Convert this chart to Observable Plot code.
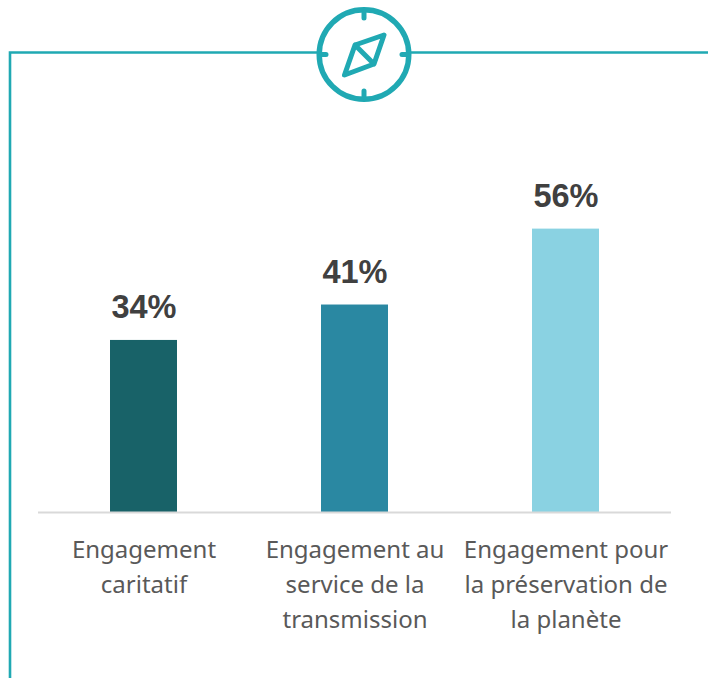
<!DOCTYPE html>
<html lang="fr">
<head>
<meta charset="utf-8">
<script src="https://cdn.jsdelivr.net/npm/d3@7"></script>
<script src="https://cdn.jsdelivr.net/npm/@observablehq/plot@0.6"></script>
<style>
html,body{margin:0;padding:0;background:#fff;overflow:hidden}
#wrap{position:relative;width:708px;height:678px}
#wrap>svg{position:absolute;left:0;top:0}
</style>
</head>
<body>
<div id="wrap"></div>
<script>
const categories = ["Engagement caritatif", "Engagement au service de la transmission", "Engagement pour la préservation de la planète"];
const tickLabels = ["Engagement\ncaritatif", "Engagement au\nservice de la\ntransmission", "Engagement pour\nla préservation de\nla planète"];
const values = [34, 41, 56];
const colors = ["#186268", "#2a88a2", "#8ad2e2"];
const rows = categories.map((category, i) => ({category, value: values[i], color: colors[i]}));

const chart = Plot.plot({
  width: 708, height: 678,
  marginLeft: 38, marginRight: 37, marginTop: 52, marginBottom: 166,
  style: {background: "transparent"},
  x: {domain: categories, paddingInner: 0.6825, paddingOuter: 0.34, label: null},
  y: {domain: [0, 90.9], axis: null},
  marks: [
    Plot.barY(rows, {x: "category", y: "value", fill: "color"}),
    Plot.ruleY([0], {stroke: "#d9d9d9", strokeWidth: 2}),
    Plot.text(rows, {x: "category", y: "value", text: d => d.value + "%", dy: -32.5, fontSize: 32.5, fontWeight: 700, fontFamily: "Liberation Sans", fill: "#404040"}),
    Plot.axisX({tickSize: 0, tickPadding: 21, label: null, fontSize: 24, lineHeight: 1.46, fontFamily: "Noto Sans", fill: "#595959", textAnchor: "middle", lineAnchor: "top",
      tickFormat: d => tickLabels[categories.indexOf(d)]})
  ]
});
const wrap = document.getElementById("wrap");
wrap.appendChild(chart);

// Decorative frame and compass icon
const teal = "#20a9b3";
const deco = document.createElementNS("http://www.w3.org/2000/svg", "svg");
deco.setAttribute("width", 708); deco.setAttribute("height", 678);
deco.innerHTML = `
<g fill="none" stroke="${teal}" stroke-linejoin="round" stroke-linecap="round">
  <path d="M10 678V52.5H318M410 52.5H708" stroke-width="2.6" stroke-linecap="butt" stroke-linejoin="miter"/>
  <circle cx="364" cy="54.5" r="44.8" stroke-width="5.4"/>
  <path d="M364 12V18M364 91V97M322 54.5H326M402 54.5H406" stroke-width="5"/>
  <path d="M384 35L355 45L344.5 75L374 64ZM355 45L374 64" stroke-width="5"/>
</g>`;
wrap.appendChild(deco);
</script>
</body>
</html>
